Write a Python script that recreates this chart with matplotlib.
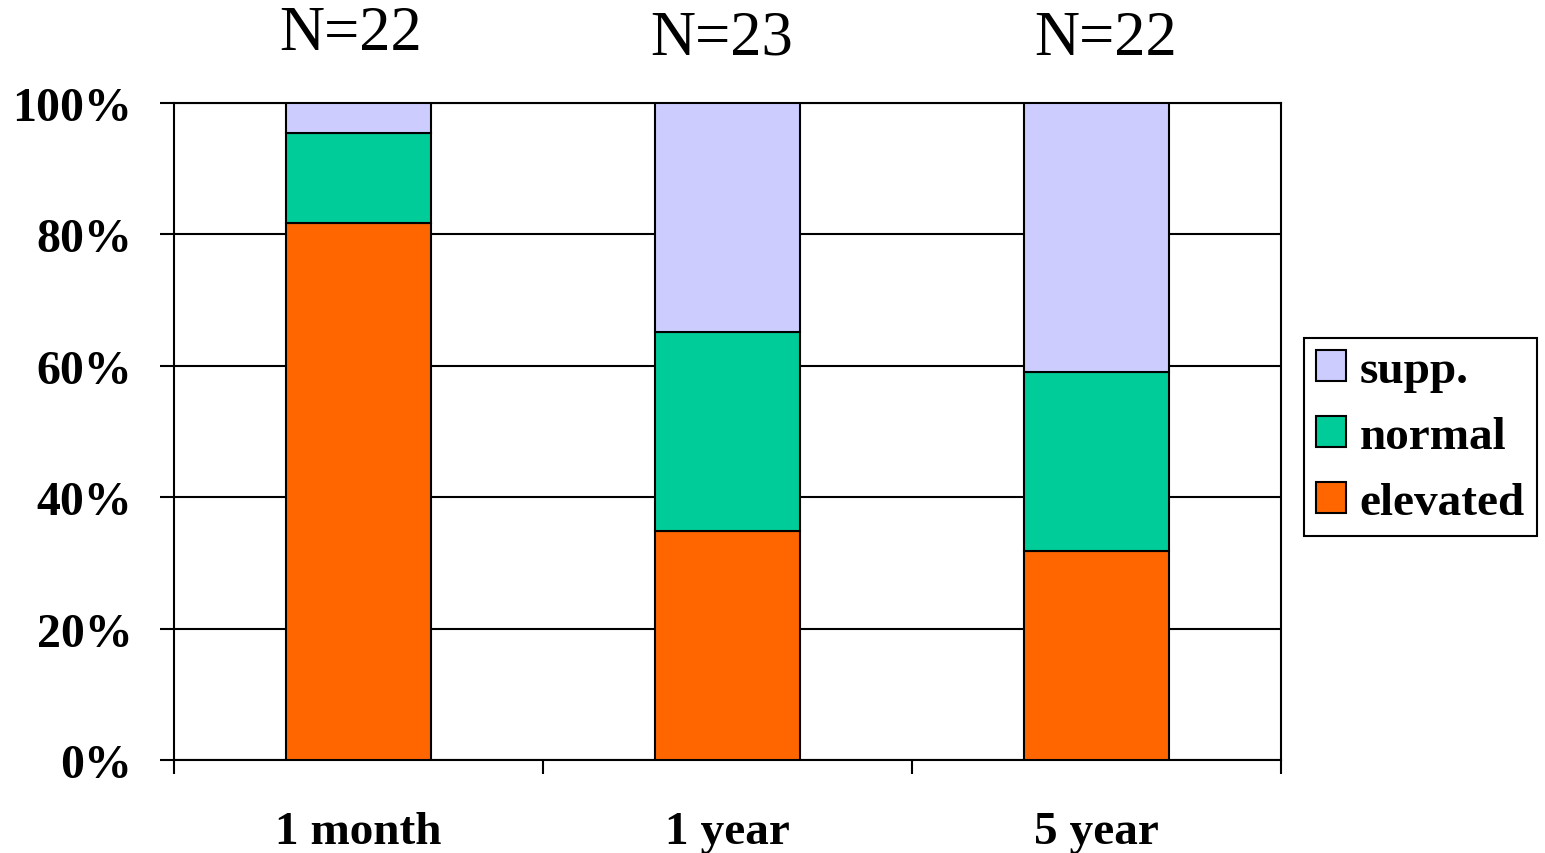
import matplotlib
matplotlib.use("Agg")
import matplotlib.pyplot as plt
import numpy as np

categories = ["1 month", "1 year", "5 year"]
n_labels = ["N=22", "N=23", "N=22"]
elevated = [81.8, 34.8, 31.8]
normal = [13.6, 30.4, 27.3]
supp = [4.6, 34.8, 40.9]
y_ticks = [0, 20, 40, 60, 80, 100]
y_tick_labels = ["0%", "20%", "40%", "60%", "80%", "100%"]

colors = {"elevated": "#FF6600", "normal": "#00CC99", "supp.": "#CCCCFF"}

plt.rcParams["font.family"] = ["Liberation Serif", "DejaVu Serif"]

fig = plt.figure(figsize=(15.45, 8.54), dpi=100)
ax = fig.add_axes([0.1126, 0.1089, 0.7165, 0.7693])

x = np.arange(len(categories))
w = 0.395
lw = 1.5
b1 = ax.bar(x, elevated, w, color=colors["elevated"], edgecolor="black", linewidth=lw, label="elevated", zorder=3)
b2 = ax.bar(x, normal, w, bottom=elevated, color=colors["normal"], edgecolor="black", linewidth=lw, label="normal", zorder=3)
bottom2 = np.array(elevated) + np.array(normal)
b3 = ax.bar(x, supp, w, bottom=bottom2, color=colors["supp."], edgecolor="black", linewidth=lw, label="supp.", zorder=3)

ax.set_xlim(-0.5, 2.5)
ax.set_ylim(0, 100)
ax.set_yticks(y_ticks)
ax.set_yticklabels(y_tick_labels, fontsize=34.5, fontweight="bold")
ax.yaxis.grid(True, color="black", linewidth=1.5, zorder=0)
ax.set_axisbelow(True)

ax.set_xticks(x)
ax.set_xticklabels(categories, fontsize=34, fontweight="bold")
ax.set_xticks([-0.5, 0.5, 1.5, 2.5], minor=True)
ax.tick_params(axis="x", which="major", length=0, pad=37)
ax.tick_params(axis="x", which="minor", length=10, width=1.5, direction="out")
ax.tick_params(axis="y", which="major", length=10, width=1.5, direction="out", pad=20)

for s in ax.spines.values():
    s.set_linewidth(1.5)
    s.set_color("black")

dx = [-0.02, -0.015, 0.025]
dy = [10.5, 9.8, 9.8]
for xi, lab, ox, oy in zip(x, n_labels, dx, dy):
    ax.text(xi + ox, 100 + oy, lab, ha="center", va="center", fontsize=45)

leg = fig.legend(handles=[b3, b2, b1], labels=["supp.", "normal", "elevated"],
                 loc="upper left", bbox_to_anchor=(0.844, 0.6035),
                 bbox_transform=fig.transFigure, borderaxespad=0,
                 prop={"size": 34, "weight": "bold"},
                 handlelength=0.64, handleheight=0.64, handletextpad=0.28,
                 labelspacing=0.5, borderpad=0.26, fancybox=False, framealpha=1)
leg.get_frame().set_edgecolor("black")
leg.get_frame().set_linewidth(1.5)

fig.savefig("out.png", dpi=100)
